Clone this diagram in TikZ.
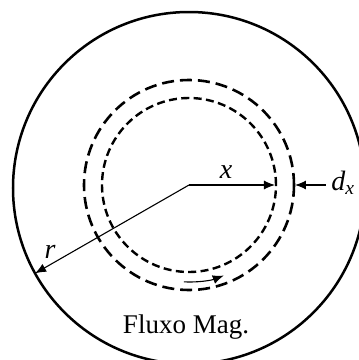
\documentclass[tikz,border=0pt]{standalone}
\usepackage{fontspec}
\setmainfont{Liberation Serif}
\usetikzlibrary{arrows.meta}
\begin{document}
\begin{tikzpicture}[x=0.5pt,y=-0.5pt,
  bigc/.style={line width=1.25pt},
  innerdash/.style={line width=1.2pt,dash pattern=on 4pt off 2.2pt},
  outerdash/.style={line width=1.3pt,dash pattern=on 6pt off 3pt},
  thinarrow/.style={line width=0.55pt,-{Latex[length=5.5pt,width=4.5pt]}},
  lbl/.style={font=\fontsize{14}{16}\selectfont\itshape,inner sep=0pt},
  txt/.style={font=\fontsize{13.5}{16}\selectfont,inner sep=0pt}]
\useasboundingbox (0,0) rectangle (359,360);
\coordinate (C) at (189,188);
\coordinate (O) at (189,185);
\begin{scope}
\clip (0,0) rectangle (359,360);
\draw[bigc] (C) circle[radius=88pt];
\end{scope}
\draw[innerdash] (O) circle[radius=43.5pt];
\draw[outerdash] (O) circle[radius=52.5pt];
% r
\coordinate (R) at ([shift={(209:88pt)}]C);
\draw[thinarrow] (O) -- (R);
\node[lbl] (rl) at (50,252) {r};
% x
\coordinate (X) at ([shift={(0:43pt)}]O);
\draw[thinarrow] (O) -- (X);
\node[lbl] (xl) at (226,172) {x};
% dx
\coordinate (D) at ([shift={(0:53pt)}]O);
\coordinate (Ds) at (326,185);
\draw[thinarrow] (Ds) -- (D);
\node[lbl,anchor=west] (dl) at (331,183) {d\textsubscript{x}};
% flux arrow
\draw[thinarrow] ([shift={(-93:48.5pt)}]O) arc[start angle=-93,end angle=-69,radius=48.5pt];
\node[txt] (fm) at (186,327) {Fluxo Mag.};
\end{tikzpicture}
\end{document}
